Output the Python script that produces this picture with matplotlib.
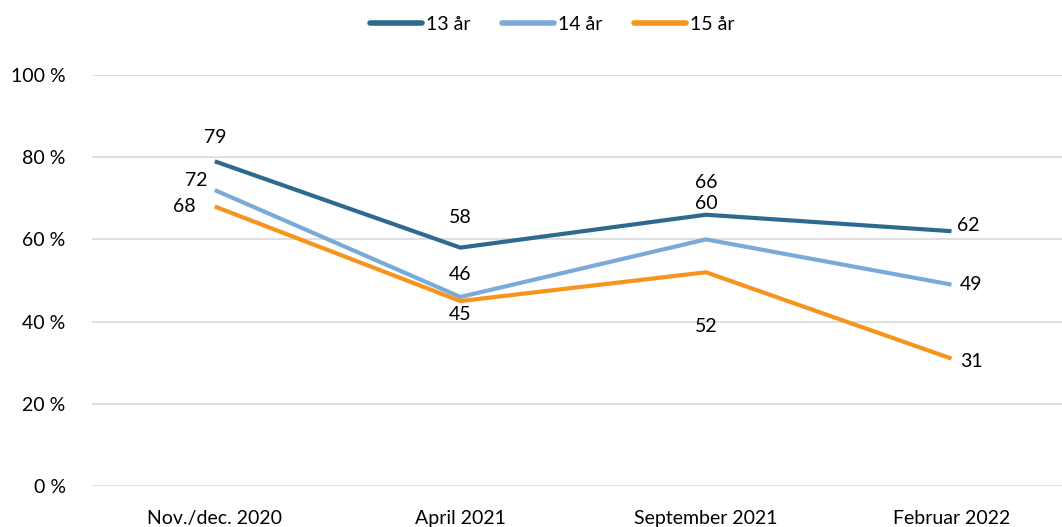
import matplotlib.pyplot as plt

plt.rcParams["font.family"] = ["Lato", "DejaVu Sans"]

categories = ["Nov./dec. 2020", "April 2021", "September 2021", "Februar 2022"]
series_names = ["13 år", "14 år", "15 år"]
age13 = [79, 58, 66, 62]
age14 = [72, 46, 60, 49]
age15 = [68, 45, 52, 31]
yticks = [0, 20, 40, 60, 80, 100]

colors = ["#2E6A90", "#7AAAD8", "#F7941D"]
# label placement per point: (dx, dy) in points
offsets = [
    [(0, 17), (0, 22), (0, 23), (12, 4)],
    [(-13, 7), (0, 16), (0, 26), (14, 0)],
    [(-22, 0), (0, -10), (0, -39), (14, -2)],
]

fig = plt.figure(figsize=(10.62, 5.27), dpi=100)
ax = fig.add_axes([92 / 1062, 41 / 527, 1 - 92 / 1062, 411 / 527])

xs = range(len(categories))
for name, vals, c, offs in zip(series_names, [age13, age14, age15], colors, offsets):
    ax.plot(xs, vals, color=c, lw=3, label=name, solid_capstyle="butt", zorder=3)
    for x, v, (dx, dy) in zip(xs, vals, offs):
        ax.annotate(str(v), (x, v), xytext=(dx, dy), textcoords="offset points",
                    ha="center", va="center", fontsize=14, color="black", zorder=4)

ax.set_xlim(-0.5, 3.45)
ax.set_ylim(0, 100)
ax.set_yticks(yticks)
ax.set_yticklabels([f"{t} %" for t in yticks], fontsize=14)
ax.set_xticks(list(xs))
ax.set_xticklabels(categories, fontsize=14)
ax.tick_params(axis="both", length=0)
ax.tick_params(axis="y", pad=19)
ax.tick_params(axis="x", pad=17)
ax.grid(axis="y", color="#D9D9D9", lw=1.2)
ax.set_axisbelow(True)
for s in ax.spines.values():
    s.set_visible(False)

leg = fig.legend(loc="upper center", bbox_to_anchor=(0.52, 1.003), ncol=3, frameon=False,
                 fontsize=14, handlelength=2.7, handletextpad=0.2, columnspacing=1.6)
for line in leg.get_lines():
    line.set_solid_capstyle("round")
    line.set_linewidth(4)

fig.savefig("out.png", dpi=100)
